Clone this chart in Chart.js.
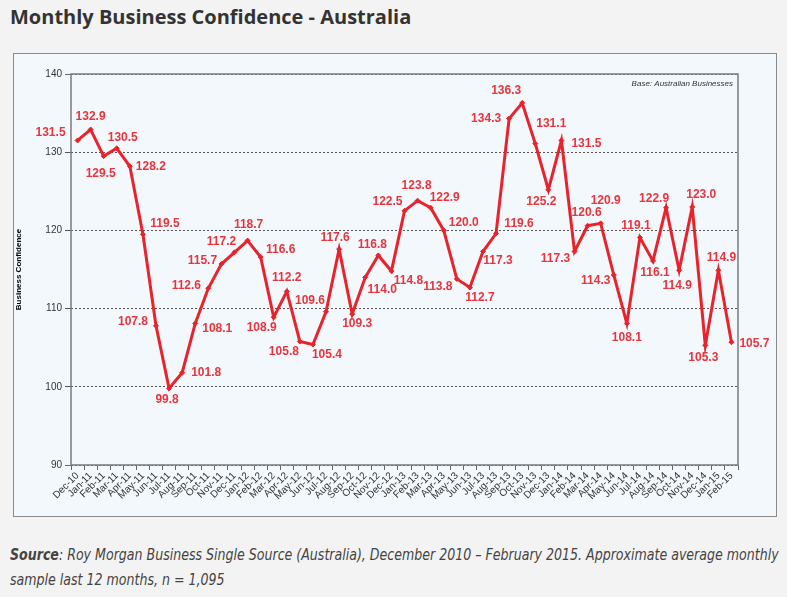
<!DOCTYPE html>
<html>
<head>
<meta charset="utf-8">
<script src="https://cdn.jsdelivr.net/npm/chart.js@4.4.0/dist/chart.umd.min.js"></script>
<style>
  body { margin: 0; background: #f3f3f3; width: 787px; height: 597px; overflow: hidden; position: relative; }
  h1 { position: absolute; left: 10px; top: 3px; margin: 0; font: 700 20px "Open Sans", sans-serif; color: #333; letter-spacing: 0px; }
  #box { position: absolute; left: 13px; top: 53px; width: 762px; height: 462px; border: 1px solid #8a8a8a; background: #f3f8fc; }
  #note { position: absolute; left: 10px; top: 542px; width: 900px; font: italic 16px "Liberation Sans Narrow", "DejaVu Sans Condensed", sans-serif; color: #444; line-height: 25px; transform: scaleX(0.875); transform-origin: 0 0; white-space: nowrap; }
  #note b { font-weight: 700; }
</style>
</head>
<body>
<h1>Monthly Business Confidence - Australia</h1>
<div id="box"><canvas id="chart" width="762" height="462"></canvas></div>
<div id="note"><b>Source</b>: Roy Morgan Business Single Source (Australia), December 2010 – February 2015. Approximate average monthly<br>sample last 12 months, n = 1,095</div>
<script>
// months Dec-10 .. Feb-15
var months = [
  "Dec-10", "Jan-11", "Feb-11", "Mar-11", "Apr-11", "May-11", "Jun-11", "Jul-11", "Aug-11", "Sep-11", "Oct-11", "Nov-11",
  "Dec-11", "Jan-12", "Feb-12", "Mar-12", "Apr-12", "May-12", "Jun-12", "Jul-12", "Aug-12", "Sep-12", "Oct-12", "Nov-12",
  "Dec-12", "Jan-13", "Feb-13", "Mar-13", "Apr-13", "May-13", "Jun-13", "Jul-13", "Aug-13", "Sep-13", "Oct-13", "Nov-13",
  "Dec-13", "Jan-14", "Feb-14", "Mar-14", "Apr-14", "May-14", "Jun-14", "Jul-14", "Aug-14", "Sep-14", "Oct-14", "Nov-14",
  "Dec-14", "Jan-15", "Feb-15"
];
var confidence = [
  131.5, 132.9, 129.5, 130.5, 128.2, 119.5, 107.8, 99.8, 101.8, 108.1, 112.6, 115.7,
  117.2, 118.7, 116.6, 108.9, 112.2, 105.8, 105.4, 109.6, 117.6, 109.3, 114.0, 116.8,
  114.8, 122.5, 123.8, 122.9, 120.0, 113.8, 112.7, 117.3, 119.6, 134.3, 136.3, 131.1,
  125.2, 131.5, 117.3, 120.6, 120.9, 114.3, 108.1, 119.1, 116.1, 122.9, 114.9, 123.0,
  105.3, 114.9, 105.7
];
var yTicks = [90, 100, 110, 120, 130, 140];

var red = "#e8232b";

// where each value label sits relative to its point (dx, dy)
var labelNudge = [
  [-27, -8], [0, -13], [-3, 18], [6, -11], [21, 0], [22, -11], [-23, -4], [-2, 11], [24, 0], [22, 5], [-22, -3], [-19, -3],
  [-13, -11], [1, -16], [20, -7], [-12, 10], [0, -14], [-16, 10], [14, 10], [-16, -11], [-4, -11], [5, 10], [17, 12], [-6, -11],
  [17, 10], [-17, -9], [-1, -15], [14, -10], [20, -8], [-19, 8], [10, 10], [15, 9], [23, -10], [-23, 0], [-16, -12], [16, -20],
  [-7, 12], [25, 3], [-19, 7], [-1, -13], [5, -23], [-18, 6], [0, 14], [-4, -12], [2, 12], [-12, -9], [-2, 15], [9, -12],
  [-2, 12], [3, -13], [23, 1]
];

var extras = {
  id: "extras",
  beforeDatasetsDraw: function (chart) {
    var a = chart.chartArea, ctx = chart.ctx;
    ctx.save();
    ctx.strokeStyle = "#7a7a7a";
    ctx.lineWidth = 1.5;
    ctx.strokeRect(a.left, a.top, a.right - a.left, a.bottom - a.top);
    ctx.font = "italic 8px Arial";
    ctx.fillStyle = "#333";
    ctx.textAlign = "right";
    ctx.textBaseline = "middle";
    ctx.fillText("Base: Australian Businesses", a.right - 5, a.top + 10);
    ctx.restore();
  },
  afterDatasetsDraw: function (chart) {
    var ctx = chart.ctx;
    var pts = chart.getDatasetMeta(0).data;
    ctx.save();
    ctx.font = "bold 12px Arial";
    ctx.fillStyle = "#e8343c";
    ctx.textAlign = "center";
    ctx.textBaseline = "middle";
    pts.forEach(function (p, i) {
      var n = labelNudge[i];
      ctx.fillText(confidence[i].toFixed(1), p.x + n[0], p.y + n[1]);
    });
    ctx.restore();
  }
};

var chart = new Chart(document.getElementById("chart"), {
  type: "line",
  data: {
    labels: months,
    datasets: [{
      data: confidence,
      borderColor: red,
      backgroundColor: red,
      borderWidth: 3,
      pointStyle: "rectRot",
      pointRadius: 2.5,
      pointBorderWidth: 1,
      tension: 0
    }]
  },
  options: {
    responsive: false,
    animation: false,
    layout: { padding: { top: 20, right: 38, left: 0, bottom: 0 } },
    plugins: { legend: { display: false }, tooltip: { enabled: false } },
    scales: {
      x: {
        offset: true,
        grid: { offset: true, drawOnChartArea: false, color: "#666", tickLength: 5 },
        border: { display: false },
        ticks: { autoSkip: false, minRotation: 45, maxRotation: 45, color: "#333", font: { family: "Arial", size: 10 }, padding: 0 },
        afterFit: function (s) { s.height = 51; }
      },
      y: {
        min: 90,
        max: 140,
        afterBuildTicks: function (s) { s.ticks = yTicks.map(function (v) { return { value: v }; }); },
        grid: {
          color: function (c) { return (c.tick && (c.tick.value === 90 || c.tick.value === 140)) ? "#666" : "#555"; },
          tickLength: 6,
          lineWidth: 1
        },
        border: { display: false, dash: [2, 2] },
        ticks: { color: "#333", font: { family: "Arial", size: 10 }, padding: 3 },
        title: { display: true, text: "Business Confidence", color: "#000", font: { family: "Arial", size: 8, weight: "bold" }, padding: 0 },
        afterFit: function (s) { s.width = 57; }
      }
    }
  },
  plugins: [extras]
});
</script>
</body>
</html>
